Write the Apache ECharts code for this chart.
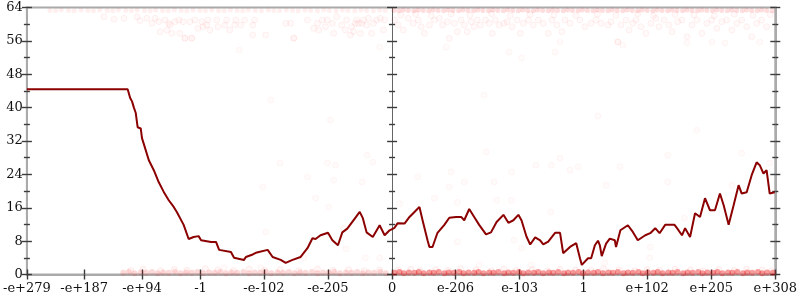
<!DOCTYPE html>
<html><head><meta charset="utf-8">
<script src="https://cdn.jsdelivr.net/npm/echarts@6/dist/echarts.min.js"></script>
<style>html,body{margin:0;padding:0;background:#fff}#c{width:800px;height:300px}</style>
</head><body><div id="c"></div>
<script>
// x axis is in "decade units": sign(v) * (log10|v| + 308)
const xTickValues = [-587,-495,-402,-308,-206,-103,0,102,205,308,410,513,616];
const xTickLabels = ['-e+279','-e+187','-e+94','-1','-e-102','-e-205','0','e-206','e-103','1','e+102','e+205','e+308'];
const yMin = 0, yMax = 64, yStep = 8;

const lineU = [-587,-425,-421,-418,-415,-412,-409,-404,-402,-397,-391,-383,-375,-367,-359,-351,-346,-335,-327,-319,-311,-307,-291,-283,-278,-259,-254,-238,-235,-224,-219,-200,-192,-179,-171,-160,-147,-136,-128,-123,-115,-103,-96,-87,-80,-72,-60,-52,-47,-41,-31,-20,-12,-4,4,9,12,20,28,36,44,49,57,60,65,73,84,92,103,111,116,124,132,140,151,159,168,179,187,195,203,208,216,222,230,238,243,251,262,270,275,286,296,302,305,315,320,326,331,334,337,344,350,358,360,367,379,387,395,407,415,423,430,439,454,458,466,471,479,487,495,503,511,519,527,533,541,549,557,562,570,578,586,591,597,602,607,610,615];
const lineVal = [44.4,44.4,42.3,41.5,40,38.7,35.3,35,32.7,30.3,27.4,25,22.1,19.8,17.8,16.2,15,11.9,8.5,9,9.2,8.2,7.8,7.8,5.9,5.4,4,3.5,4.2,4.8,5.2,5.9,4.2,3.5,2.8,3.5,4.2,6.3,8.7,8.5,9.4,10,8.2,7,10.1,11,13.4,15,13.5,10.1,9,11.8,9.4,10.6,11.2,12.3,12.6,12.2,13.8,15,16.2,13,8.2,6.6,6.6,10,11.9,13.6,13.8,13.8,13,15.7,13.8,11.9,9.6,10.1,12.6,14.3,12.4,13,14.3,13,9.1,7.2,8.9,8.2,7.2,7.9,10,10,5.1,6.6,7.5,3.9,2.3,3.9,3.9,7,8.1,7,4.4,7.4,8.6,8.2,6.6,10.6,11.8,10.2,8.2,9.4,9.9,11.1,9.9,11.9,11.9,11.1,9.4,11.1,9,14.7,13.8,18.3,15.4,15.4,19.4,16.6,11.9,16.6,21.4,19.4,19.7,23.8,26.9,26.2,24.2,25,19.4,19.7,19.7];

const topRowLeft = [[-550,63.3],[-541,63.2],[-532,63.4],[-520,63.3],[-511,63.2],[-500,63.4],[-489,63.3],[-480,63.2],[-470,63.4],[-458,63.3],[-449,63.2],[-440,63.4],[-428,63.3],[-419,63.2],[-410,63.4],[-398,63.3],[-389,63.2],[-380,63.4],[-369,63.3],[-360,63.2],[-350,63.4],[-339,63.3],[-330,63.2],[-320,63.4],[-309,63.3],[-300,63.2],[-290,63.4],[-279,63.3],[-270,63.2],[-260,63.4],[-249,63.3],[-240,63.2],[-231,63.4],[-220,63.3],[-210,63.2],[-199,63.4],[-190,63.3],[-181,63.2],[-170,63.4],[-160,63.3],[-151,63.2],[-140,63.4],[-131,63.3],[-120,63.2],[-110,63.4],[-101,63.3],[-90,63.2],[-80,63.4],[-71,63.3],[-60,63.2],[-50,63.4],[-41,63.3],[-30,63.2],[-20,63.4],[-11,63.3]];
const topRowRight = [[3,63.3],[11,63.2],[18,63.4],[26,63.3],[35,63.2],[42,63.4],[50,63.3],[59,63.2],[66,63.4],[74,63.3],[83,63.2],[90,63.4],[98,63.3],[107,63.2],[114,63.4],[122,63.3],[131,63.2],[138,63.4],[146,63.3],[155,63.2],[162,63.4],[170,63.3],[179,63.2],[186,63.4],[194,63.3],[203,63.2],[210,63.4],[218,63.3],[227,63.2],[234,63.4],[242,63.3],[251,63.2],[258,63.4],[266,63.3],[275,63.2],[282,63.4],[290,63.3],[299,63.2],[306,63.4],[314,63.3],[323,63.2],[330,63.4],[338,63.3],[347,63.2],[354,63.4],[362,63.3],[371,63.2],[378,63.4],[386,63.3],[395,63.2],[402,63.4],[410,63.3],[419,63.2],[426,63.4],[434,63.3],[443,63.2],[450,63.4],[458,63.3],[467,63.2],[474,63.4],[482,63.3],[491,63.2],[498,63.4],[506,63.3],[515,63.2],[522,63.4],[530,63.3],[539,63.2],[546,63.4],[554,63.3],[563,63.2],[570,63.4],[578,63.3],[587,63.2],[594,63.4],[602,63.3],[611,63.2]];
const topScatter = [[-463,61.8],[-447,61.2],[-431,61.4],[-410,61.8],[-405,60.8],[-394,61.4],[-386,60.2],[-381,61.4],[-375,60.6],[-373,58.2],[-365,61.0],[-359,60.2],[-362,58.6],[-357,59.8],[-354,57.8],[-349,60.6],[-343,61.0],[-341,57.8],[-336,60.6],[-333,56.6],[-325,60.6],[-322,56.6],[-317,61.0],[-312,59.0],[-306,60.6],[-304,59.4],[-298,59.8],[-296,61.0],[-293,58.6],[-282,61.0],[-280,59.4],[-269,59.8],[-266,61.0],[-261,58.6],[-253,59.8],[-251,61.0],[-243,59.8],[-237,61.0],[-224,59.8],[-221,61.0],[-224,57.4],[-203,57.4],[-171,60.2],[-163,60.2],[-158,56.6],[-136,61.0],[-126,59.0],[-120,60.2],[-118,58.6],[-112,61.0],[-107,59.4],[-104,61.0],[-96,60.2],[-94,57.8],[-89,61.8],[-81,59.8],[-75,58.6],[-73,61.0],[-67,57.4],[-65,59.4],[-62,58.2],[-59,60.2],[-57,61.0],[-54,60.2],[-51,57.8],[-49,60.2],[-46,61.0],[-41,59.8],[-38,61.4],[-33,57.8],[-30,60.2],[-25,61.0],[-19,61.4],[-14,58.6],[-12,61.0],
[4,61.0],[10,59.8],[18,58.6],[26,61.4],[34,60.2],[42,61.0],[47,59.4],[52,57.8],[60,59.8],[68,61.0],[76,61.4],[81,59.8],[89,60.6],[92,56.6],[100,60.2],[105,58.2],[111,61.0],[116,59.8],[121,58.2],[127,60.6],[132,59.4],[137,61.0],[142,59.8],[150,61.0],[156,60.2],[161,57.8],[166,61.0],[172,59.8],[180,60.2],[185,60.6],[193,59.4],[201,61.0],[206,57.8],[211,60.2],[219,61.0],[227,59.8],[235,61.0],[243,60.2],[251,57.8],[257,61.0],[265,59.8],[273,58.2],[278,61.0],[286,60.2],[302,61.0],[310,59.4],[320,60.2],[328,61.0],[336,60.2],[347,59.8],[352,60.6],[363,55.8],[368,59.8],[376,61.0],[381,58.6],[387,60.2],[392,61.0],[400,59.4],[408,57.8],[416,60.2],[424,61.4],[429,59.4],[437,61.0],[445,59.8],[450,58.2],[459,60.6],[466,61.0],[474,57.0],[482,59.8],[490,61.0],[498,57.8],[506,60.2],[514,61.0],[522,59.0],[530,60.6],[538,61.0],[546,58.6],[554,60.2],[562,61.0],[570,59.4],[578,57.0],[586,60.2],[594,61.0],[602,59.4],
[14,62.2],[38,62.5],[63,62.0],[95,62.4],[125,62.1],[160,62.5],[190,62.0],[222,62.3],[260,62.2],[295,62.0],[330,62.4],[360,62.1],[395,62.5],[420,62.0],[455,62.3],[485,62.2],[518,62.0],[550,62.4],[580,62.1],[608,62.3]];
const midScatter = [[-180,26.7],[-208,21],[-203,10.2],[-104,26.7],[-91,26.2],[-136,23.4],[-94,22.6],[-40,28.6],[-31,26.9],[-48,22.2],[-123,18.3],[-102,16.2],[-78,11.1],[-74,6.1],[-43,4],[-20,4],[-142,4],[-270,1.6],[-211,1.6],
[41,23.4],[95,24.6],[116,22.2],[164,22.2],[151,29.4],[231,26.2],[256,26.2],[270,27.9],[286,25],[299,25.8],[192,24.6],[68,18.3],[105,17.3],[168,17.8],[192,17.8],[92,21],[255,15],[12,17],[196,8.2],[208,6.3],[105,7.8],[140,2.3],[224,2.3],
[366,25.8],[443,28.6],[443,22.2],[562,29.1],[607,26.7],[344,21.4],[470,13.5],[415,6.6],[414,4],[342,2.8],[546,21.4],
[-246,53.8],[-158,56.7],[-20,54.5],[-333,56.7],[-322,56.7],
[87,54.5],[188,53.3],[208,51.9],[270,55.7],[262,53.3],[363,55.7],[371,55],[474,55.5],[514,55.7],[535,55.5],[591,55.7],
[148,43],[331,38],[490,34.6],[-195,41.8],[-99,37]];
const bottomRowLeft = [[-432,0.4],[-423,0.6],[-414,0.3],[-404,0.5],[-395,0.4],[-386,0.6],[-377,0.3],[-368,0.5],[-359,0.4],[-349,0.6],[-340,0.3],[-331,0.5],[-322,0.4],[-313,0.6],[-304,0.3],[-294,0.5],[-285,0.4],[-276,0.6],[-267,0.3],[-258,0.5],[-249,0.4],[-239,0.6],[-230,0.3],[-221,0.5],[-212,0.4],[-203,0.6],[-194,0.3],[-184,0.5],[-175,0.4],[-166,0.6],[-157,0.3],[-148,0.5],[-139,0.4],[-129,0.6],[-120,0.3],[-111,0.5],[-102,0.4],[-93,0.6],[-84,0.3],[-74,0.5],[-65,0.4],[-56,0.6],[-47,0.3],[-38,0.5],[-29,0.4],[-19,0.6],[-10,0.3]];
const bottomRowRight = [[4,0.4],[12,0.6],[19,0.3],[27,0.5],[36,0.4],[43,0.6],[51,0.3],[60,0.5],[67,0.4],[75,0.6],[84,0.3],[91,0.5],[99,0.4],[108,0.6],[115,0.3],[123,0.5],[132,0.4],[139,0.6],[147,0.3],[156,0.5],[163,0.4],[171,0.6],[180,0.3],[187,0.5],[195,0.4],[204,0.6],[211,0.3],[219,0.5],[228,0.4],[235,0.6],[243,0.3],[252,0.5],[259,0.4],[267,0.6],[276,0.3],[283,0.5],[291,0.4],[300,0.6],[307,0.3],[315,0.5],[324,0.4],[331,0.6],[339,0.3],[348,0.5],[355,0.4],[363,0.6],[372,0.3],[379,0.5],[387,0.4],[396,0.6],[403,0.3],[411,0.5],[420,0.4],[427,0.6],[435,0.3],[444,0.5],[451,0.4],[459,0.6],[468,0.3],[475,0.5],[483,0.4],[492,0.6],[499,0.3],[507,0.5],[516,0.4],[523,0.6],[531,0.3],[540,0.5],[547,0.4],[555,0.6],[564,0.3],[571,0.5],[579,0.4],[588,0.6],[595,0.3],[603,0.5],[612,0.4]];
const bottomScatter = [[-420,1.0],[-400,1.3],[-372,0.9],[-350,1.2],[-330,1.0],[-300,1.4],[-280,1.1],[-255,0.9],[-230,1.3],[-205,1.0],[-180,1.2],[-150,0.9],[-120,1.3],[-95,1.0],[-70,1.2],[-45,0.9],[-20,1.1],
[10,1.1],[30,1.3],[45,0.9],[70,1.2],[90,1.0],[110,1.4],[135,1.1],[160,0.9],[180,1.3],[200,1.0],[225,1.2],[250,0.9],[270,1.3],[295,1.1],[320,1.0],[340,1.4],[365,1.1],[390,0.9],[410,1.2],[430,1.0],[455,1.3],[480,1.1],[500,0.9],[525,1.2],[550,1.0],[570,1.3],[595,1.1],[610,0.9]];

const FONT = '"DejaVu Serif", serif';
const TICK = {color:'#3a3a3a', width:1.4};
const GRAY = '#aaaaaa';

function zip(a,b){ return a.map((v,i)=>[v,b[i]]); }
function xLabel(v){ const i = xTickValues.indexOf(v); return i>=0 ? xTickLabels[i] : ''; }

function xAx(inside, showLabel, showLine){
  return {type:'value', min:xTickValues[0], max:xTickValues[xTickValues.length-1], position:'bottom',
    axisLine:{show:showLine, onZero:false, lineStyle:{color:GRAY, width:2}},
    axisTick:{show:true, inside:inside, length:5, customValues:xTickValues, lineStyle:TICK},
    axisLabel:{show:showLabel, customValues:xTickValues, formatter:xLabel, fontFamily:FONT, fontSize:13, color:'#111', margin:8},
    splitLine:{show:false}};
}
function yAx(pos, inside, opts){
  return Object.assign({type:'value', min:yMin, max:yMax, interval:yStep, position:pos,
    axisLine:{show:true, onZero:false, lineStyle:{color:GRAY, width:2}},
    axisTick:{show:true, inside:inside, length:5, lineStyle:TICK},
    minorTick:{show:true, splitNumber:2, length:3, lineStyle:TICK},
    axisLabel:{show:false},
    splitLine:{show:false}}, opts||{});
}

const dot = (fill, stroke, bw) => ({color:fill, borderColor:stroke, borderWidth:bw==null?1:bw});

const option = {
  animation:false,
  backgroundColor:'#fff',
  grid:{left:23.5, right:21.5, top:7.5, bottom:25.5, show:true, borderColor:GRAY, borderWidth:2},
  xAxis:[xAx(false,true,true), xAx(true,false,false)],
  yAxis:[
    yAx('left', false, {axisLabel:{show:true, fontFamily:FONT, fontSize:13, color:'#111', margin:4}}),
    yAx('left', true, {axisLine:{show:false, onZero:false}}),
    yAx('left', false, {axisLine:{show:true, onZero:true, onZeroAxisIndex:0, lineStyle:{color:'#666', width:1}}}),
    yAx('left', true, {axisLine:{show:false, onZero:true, onZeroAxisIndex:0}}),
    yAx('right', false, {}),
    yAx('right', true, {axisLine:{show:false, onZero:false}})
  ],
  series:[
    {type:'scatter', data:topRowLeft, symbolSize:5, itemStyle:dot('rgba(255,0,0,0.08)','rgba(255,0,0,0.08)',0)},
    {type:'scatter', data:topRowRight, symbolSize:5, itemStyle:dot('rgba(240,0,0,0.17)','rgba(240,0,0,0.17)',0)},
    {type:'scatter', data:topScatter, symbolSize:6, itemStyle:dot('rgba(255,0,0,0.03)','rgba(255,0,0,0.07)')},
    {type:'scatter', data:midScatter, symbolSize:6, itemStyle:dot('rgba(255,0,0,0.02)','rgba(255,0,0,0.05)')},
    {type:'scatter', data:bottomScatter, symbolSize:6, itemStyle:dot('rgba(255,0,0,0.04)','rgba(255,0,0,0.08)')},
    {type:'scatter', data:bottomRowLeft, symbolSize:6, itemStyle:dot('rgba(240,0,0,0.18)','rgba(240,0,0,0.18)',0)},
    {type:'scatter', data:bottomRowRight, symbolSize:6, itemStyle:dot('rgba(235,0,0,0.48)','rgba(235,0,0,0.48)',0)},
    {type:'line', data:zip(lineU,lineVal), symbol:'none', z:10, lineStyle:{color:'#8b0000', width:2}}
  ]
};
const chart = echarts.init(document.getElementById('c'), null, {renderer:'canvas'});
chart.setOption(option);
</script></body></html>
